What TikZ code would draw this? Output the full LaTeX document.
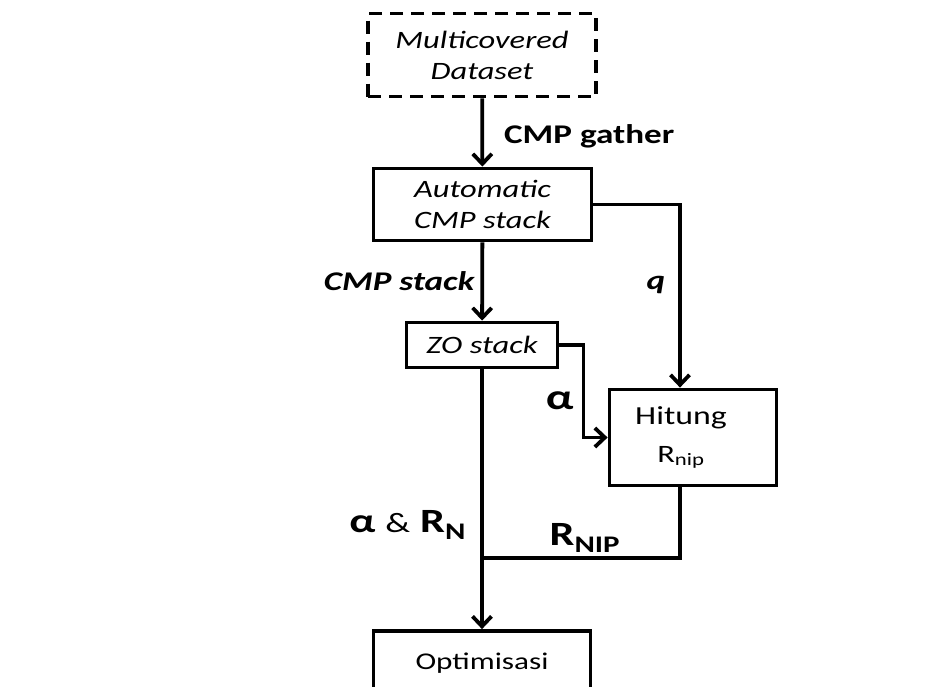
\documentclass[tikz,border=0pt]{standalone}
\usepackage{fontspec}
\setmainfont{Carlito}
\usepackage{graphicx}
\usepackage{tikz}
\usetikzlibrary{arrows.meta,positioning}
\newcommand{\stretchx}[1]{\scalebox{1.3}[1]{#1}}

\begin{document}
\begin{tikzpicture}[x=1pt, y=-1pt, line width=3.8pt,
  every node/.style={font=\fontsize{25}{31}\selectfont},
  box/.style={draw, line width=3.8pt, inner sep=1pt, align=center},
  lbl/.style={font=\fontsize{27}{30}\selectfont\bfseries, inner sep=0pt},
  arr/.style={-{Straight Barb[length=10pt,width=19pt,line width=3.8pt]}}]
\useasboundingbox (0,0) rectangle (937,686);
\clip (0,0) rectangle (937,686);
\node[box, dashed, dash pattern=on 13pt off 8pt, minimum width=228pt, minimum height=83pt] (data) at (482,55)
  {\stretchx{\itshape Multicovered}\\ \stretchx{\itshape Dataset}};
\node[box, minimum width=218pt, minimum height=72pt] (auto) at (482.5,204.5)
  {\stretchx{\itshape Automatic}\\ \stretchx{\itshape CMP stack}};
\node[box, minimum width=151pt, minimum height=45pt] (zo) at (482,345) {\stretchx{\itshape ZO stack}};
\node[box, minimum width=167pt, minimum height=96pt, font=\fontsize{26}{38}\selectfont] (hit) at (693,437.5)
  {\stretchx{Hitung}\hspace*{24pt}\\ \stretchx{\fontsize{25}{30}\selectfont R\textsubscript{nip}}\hspace*{24pt}};
\node[box, minimum width=217pt, minimum height=64pt, font=\fontsize{24}{28}\selectfont] (opt) at (482,663) {\stretchx{Optimisasi}};
\coordinate (join) at (482,558);

\draw[arr] (data) -- node[lbl, right=20pt, pos=0.55]{\stretchx{CMP gather}} (auto);
\draw[arr] (auto) -- node[lbl, left=6pt, font=\fontsize{27}{30}\selectfont\bfseries\itshape, pos=0.5]{\stretchx{CMP stack}} (zo);
\draw[arr] (auto.east) -| node[lbl, font=\fontsize{27}{30}\selectfont\bfseries\itshape, pos=0.72, left=13pt]{\stretchx{q}} ([xshift=-13pt]hit.north);
\draw[arr] (zo.east) -- ++(24,0) |- node[lbl, pos=0.3, left=8pt, font=\fontsize{36}{36}\selectfont\bfseries]{\stretchx{α}} (hit.west);
\draw ([xshift=-13pt]hit.south) |- node[lbl, pos=0.74, above=4pt, font=\fontsize{34}{34}\selectfont\bfseries]{\stretchx{R\textsubscript{NIP}}} (join);
\draw[arr] (zo) -- node[lbl, pos=0.6, left=14pt, font=\fontsize{34}{34}\selectfont\bfseries]{\stretchx{α {\mdseries\fontsize{28}{28}\selectfont\&} R\textsubscript{N}}} (opt);
\end{tikzpicture}
\end{document}
